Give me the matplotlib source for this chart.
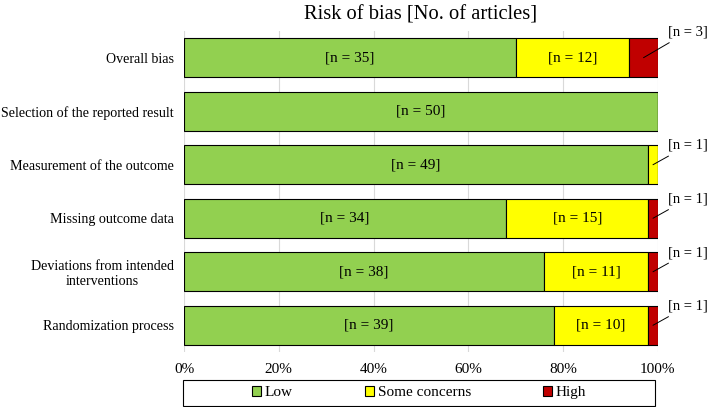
import numpy as np
import matplotlib
matplotlib.use('Agg')
from matplotlib import pyplot as plt
from matplotlib.patches import Rectangle

plt.rcParams['font.family'] = ['Liberation Serif', 'DejaVu Serif']

# Risk of bias counts (50 articles in total)
domains = ['Overall bias', 'Selection of the reported result',
           'Measurement of the outcome', 'Missing outcome data',
           'Deviations from intended\ninterventions', 'Randomization process']
low = [35, 50, 49, 34, 38, 39]
some = [12, 0, 1, 15, 11, 10]
high = [3, 0, 0, 1, 1, 1]
total = 50

colors = ['#92D050', '#FFFF00', '#C00000']
series_names = ['Low', 'Some concerns', 'High']

fig = plt.figure(figsize=(7.08, 4.07), dpi=100)
ax = fig.add_axes([0.260, 0.135, 0.669, 0.789])

y = np.arange(len(domains))
counts = [np.array(low), np.array(some), np.array(high)]
left = np.zeros(len(domains))
for c, col, name in zip(counts, colors, series_names):
    pct = c / total * 100
    ax.barh(y, pct, left=left, height=0.73, color=col, edgecolor='black',
            linewidth=0.8, label=name, zorder=3)
    for i in range(len(domains)):
        if c[i] == 0:
            continue
        mid = left[i] + pct[i] / 2
        if c[i] > 3:
            ax.text(mid, y[i], '[n = %d]' % c[i], ha='center', va='center',
                    fontsize=11, zorder=4)
        else:
            # small segments get a leader line to a label outside the bar
            off = 0.48 if i == 0 else 0.36
            ax.annotate('[n = %d]' % c[i], xy=(mid, y[i]),
                        xytext=(106.3, y[i] - off), ha='center', va='center',
                        fontsize=10.5, annotation_clip=False,
                        arrowprops=dict(arrowstyle='-', color='black',
                                        lw=0.7, shrinkA=2, shrinkB=0),
                        zorder=5)
    left = left + pct

ax.set_xlim(0, 100)
ax.set_ylim(len(domains) - 0.5, -0.5)
ax.set_yticks(y)
ax.set_yticklabels(domains, fontsize=10.1, ha='right', multialignment='center')
ax.tick_params(axis='y', length=0, pad=7.5)
ax.set_xticks(np.arange(0, 101, 20))
ax.set_xticklabels(['%d%%' % v for v in range(0, 101, 20)], fontsize=11)
ax.tick_params(axis='x', length=0, pad=8)
ax.grid(axis='x', color='#D9D9D9', linewidth=0.8, zorder=0)
for s in ax.spines.values():
    s.set_visible(False)

ax.set_title('Risk of bias [No. of articles]', fontsize=14.8, pad=8)

# legend box spanning the plot width, entries centred inside it
box = Rectangle((0.2585, 0.003), 0.667, 0.064, transform=fig.transFigure,
                facecolor='white', edgecolor='black', linewidth=0.8)
fig.patches.append(box)
leg = fig.legend(loc='center', bbox_to_anchor=(0.592, 0.035),
                 ncol=3, fontsize=11, frameon=False, handlelength=0.6,
                 handleheight=0.6, handletextpad=0.25, columnspacing=4.7,
                 borderaxespad=0, borderpad=0)
for h in leg.legend_handles:
    h.set_linewidth(0.8)

plt.savefig('out.png', dpi=100)
